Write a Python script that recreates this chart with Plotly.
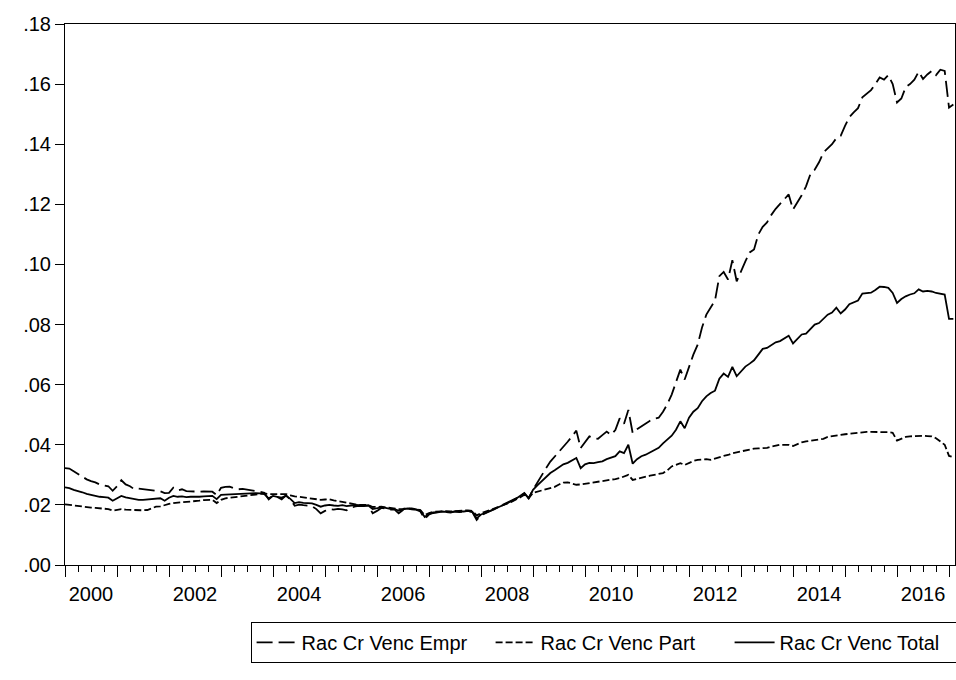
import plotly.graph_objects as go

# Monthly observations, 2000-01 .. 2017-02
months = [f"{y}-{m:02d}" for y in range(2000, 2018) for m in range(1, 13)][:206]

empr = [
    .0322, .0321, .0312, .0302, .0294, .0285, .0279, .0275, .0268, .0264, .0262, .0247,  # 2000
    .0262, .0282, .0268, .0262, .0252, .0254, .0252, .0250, .0249, .0247, .0245, .0239,  # 2001
    .0240, .0257, .0248, .0252, .0246, .0245, .0244, .0244, .0245, .0244, .0244, .0233,  # 2002
    .0257, .0260, .0261, .0255, .0252, .0253, .0250, .0249, .0246, .0244, .0240, .0218,  # 2003
    .0231, .0226, .0218, .0232, .0218, .0197, .0201, .0199, .0198, .0196, .0186, .0172,  # 2004
    .0180, .0186, .0184, .0187, .0185, .0182, .0190, .0195, .0197, .0196, .0198, .0172,  # 2005
    .0180, .0190, .0188, .0184, .0185, .0172, .0183, .0188, .0185, .0184, .0178, .0153,  # 2006
    .0168, .0173, .0175, .0178, .0176, .0174, .0178, .0176, .0178, .0180, .0176, .0150,  # 2007
    .0165, .0172, .0178, .0185, .0192, .0198, .0205, .0212, .0220, .0228, .0238, .0222,  # 2008
    .0250, .0275, .0300, .0322, .0344, .0360, .0378, .0394, .0410, .0428, .0447, .0389,  # 2009
    .0410, .0428, .0422, .0420, .0432, .0444, .0433, .0449, .0488, .0470, .0516, .0439,  # 2010
    .0452, .0462, .0470, .0480, .0487, .0490, .0510, .0535, .0567, .0605, .0650, .0617,  # 2011
    .0660, .0700, .0733, .0790, .0833, .0855, .0880, .0961, .0975, .0950, .1014, .0944,  # 2012
    .0980, .1010, .1040, .1050, .1100, .1125, .1140, .1165, .1185, .1200, .1215, .1233,  # 2013
    .1183, .1205, .1230, .1260, .1300, .1315, .1340, .1372, .1385, .1400, .1420, .1428,  # 2014
    .1461, .1490, .1506, .1520, .1556, .1567, .1580, .1600, .1622, .1615, .1630, .1600,  # 2015
    .1539, .1552, .1590, .1600, .1615, .1641, .1617, .1632, .1644, .1630, .1648, .1644,  # 2016
    .1522, .1532,                                                                          # 2017
]

part = [
    .0202, .0200, .0198, .0196, .0193, .0192, .0191, .0190, .0189, .0188, .0186, .0181,
    .0184, .0186, .0184, .0183, .0183, .0183, .0182, .0183, .0188, .0194, .0195, .0200,
    .0203, .0206, .0207, .0208, .0210, .0211, .0212, .0214, .0216, .0217, .0217, .0206,
    .0217, .0222, .0224, .0226, .0228, .0230, .0232, .0233, .0235, .0237, .0238, .0236,
    .0236, .0235, .0234, .0236, .0232, .0228, .0227, .0225, .0222, .0220, .0220, .0217,
    .0218, .0219, .0215, .0212, .0210, .0207, .0205, .0202, .0200, .0201, .0200, .0193,
    .0194, .0194, .0192, .0190, .0189, .0186, .0187, .0189, .0188, .0186, .0183, .0166,
    .0173, .0177, .0178, .0180, .0179, .0178, .0179, .0178, .0180, .0182, .0180, .0165,
    .0172, .0177, .0182, .0187, .0193, .0198, .0204, .0210, .0217, .0225, .0234, .0222,
    .0240, .0244, .0248, .0252, .0256, .0260, .0268, .0274, .0275, .0270, .0267, .0268,
    .0270, .0272, .0274, .0276, .0278, .0280, .0283, .0286, .0289, .0294, .0300, .0283,
    .0287, .0290, .0293, .0297, .0300, .0303, .0306, .0315, .0328, .0333, .0339, .0333,
    .0340, .0346, .0350, .0352, .0352, .0350, .0355, .0360, .0363, .0366, .0372, .0375,
    .0378, .0382, .0386, .0387, .0388, .0389, .0390, .0394, .0398, .0400, .0400, .0400,
    .0396, .0403, .0408, .0411, .0413, .0415, .0417, .0420, .0426, .0429, .0432, .0433,
    .0435, .0437, .0439, .0440, .0442, .0443, .0443, .0442, .0442, .0442, .0442, .0440,
    .0414, .0420, .0426, .0428, .0429, .0430, .0430, .0429, .0428, .0422, .0411, .0400,
    .0363, .0359,
]

total = [
    .0258, .0256, .0250, .0247, .0242, .0237, .0233, .0230, .0227, .0226, .0224, .0214,
    .0222, .0230, .0225, .0222, .0218, .0217, .0217, .0218, .0219, .0222, .0222, .0214,
    .0224, .0230, .0227, .0228, .0226, .0227, .0226, .0227, .0228, .0229, .0230, .0219,
    .0233, .0234, .0235, .0236, .0237, .0238, .0239, .0239, .0239, .0238, .0236, .0222,
    .0230, .0227, .0224, .0230, .0220, .0206, .0209, .0207, .0206, .0205, .0200, .0194,
    .0198, .0200, .0198, .0197, .0199, .0196, .0198, .0200, .0199, .0198, .0198, .0186,
    .0190, .0192, .0190, .0187, .0187, .0180, .0185, .0188, .0186, .0185, .0181, .0160,
    .0170, .0175, .0176, .0178, .0177, .0176, .0178, .0177, .0178, .0180, .0177, .0155,
    .0168, .0173, .0178, .0185, .0192, .0198, .0205, .0212, .0220, .0229, .0240, .0222,
    .0250, .0265, .0278, .0290, .0306, .0315, .0325, .0335, .0340, .0348, .0356, .0322,
    .0335, .0340, .0339, .0342, .0345, .0352, .0356, .0362, .0378, .0372, .0400, .0337,
    .0352, .0362, .0367, .0375, .0383, .0390, .0405, .0418, .0430, .0450, .0478, .0455,
    .0490, .0510, .0522, .0545, .0561, .0572, .0580, .0620, .0637, .0626, .0659, .0628,
    .0645, .0660, .0670, .0681, .0700, .0719, .0722, .0732, .0741, .0745, .0755, .0763,
    .0737, .0752, .0767, .0770, .0785, .0800, .0805, .0818, .0833, .0840, .0856, .0837,
    .0850, .0868, .0874, .0880, .0903, .0904, .0906, .0915, .0926, .0925, .0922, .0905,
    .0872, .0885, .0894, .0900, .0904, .0917, .0910, .0912, .0910, .0905, .0903, .0900,
    .0819, .0819,
]

year_labels = ["2000", "2002", "2004", "2006", "2008", "2010", "2012", "2014", "2016"]
y_ticks = [0.0, 0.02, 0.04, 0.06, 0.08, 0.10, 0.12, 0.14, 0.16, 0.18]
y_ticktext = [".00", ".02", ".04", ".06", ".08", ".10", ".12", ".14", ".16", ".18"]

# decimal-year positions of the monthly observations
t = [int(s[:4]) + (int(s[5:7]) - 1) / 12 for s in months]

X_RANGE = [2000, 2017.115]
FONT = "Liberation Sans, Arial, sans-serif"
FS = 20

fig = go.Figure()
fig.add_trace(go.Scatter(x=t, y=empr, mode="lines", name="Rac Cr Venc Empr",
                         line=dict(color="black", width=1.8, dash="16px,6px")))
fig.add_trace(go.Scatter(x=t, y=part, mode="lines", name="Rac Cr Venc Part",
                         line=dict(color="black", width=1.8, dash="7px,3px")))
fig.add_trace(go.Scatter(x=t, y=total, mode="lines", name="Rac Cr Venc Total",
                         line=dict(color="black", width=1.8)))
# helper trace so the year-tick axis is drawn
fig.add_trace(go.Scatter(x=[X_RANGE[0]], y=[0], xaxis="x2", mode="markers",
                         marker=dict(opacity=0), showlegend=False, hoverinfo="skip"))

label_pos = [int(y) + 0.5 for y in year_labels]
quarters = [2000 + q / 4 for q in range(0, 69)]
years = list(range(2000, 2018))

fig.update_layout(
    width=956, height=680,
    margin=dict(l=65, r=1, t=24, b=115, autoexpand=False),
    paper_bgcolor="white", plot_bgcolor="white",
    font=dict(family=FONT, size=FS, color="black"),
    showlegend=True,
    legend=dict(orientation="h", x=1.0164, xanchor="right", y=-0.105, yanchor="top",
                bordercolor="black", borderwidth=1, bgcolor="white",
                font=dict(family=FONT, size=FS), itemwidth=40,
                traceorder="normal", tracegroupgap=0,
                entrywidth=184, entrywidthmode="pixels"),
    xaxis=dict(range=X_RANGE, showgrid=False, zeroline=False,
               showline=True, linecolor="black", linewidth=1, mirror=True,
               tickmode="array", tickvals=label_pos, ticktext=year_labels,
               ticks="outside", ticklen=11, tickcolor="rgba(0,0,0,0)",
               tickfont=dict(family=FONT, size=FS),
               minor=dict(tickmode="array", tickvals=quarters, ticks="outside",
                          ticklen=6, tickcolor="black", tickwidth=1, showgrid=False)),
    xaxis2=dict(range=X_RANGE, overlaying="x", anchor="y", side="bottom",
                showgrid=False, zeroline=False, showline=False,
                tickmode="array", tickvals=years, ticks="outside", ticklen=11,
                tickcolor="black", tickwidth=1, showticklabels=False),
    yaxis=dict(range=[0, 0.18], showgrid=False, zeroline=False,
               showline=True, linecolor="black", linewidth=1, mirror=True,
               tickmode="array", tickvals=y_ticks, ticktext=y_ticktext,
               ticks="outside", ticklen=9, tickcolor="black", tickwidth=1,
               tickfont=dict(family=FONT, size=FS)),
)

fig.write_html("out.html")
